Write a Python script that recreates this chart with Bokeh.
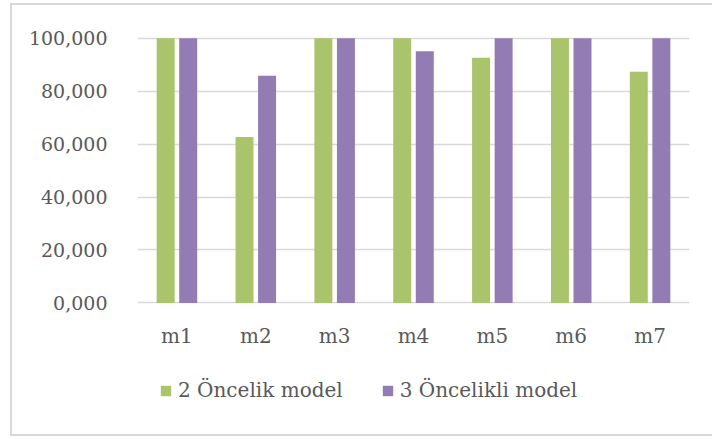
from bokeh.plotting import figure
from bokeh.layouts import column
from bokeh.models import FactorRange, Range1d, Legend, LegendItem, FixedTicker, ColumnDataSource
from bokeh.transform import dodge
from bokeh.embed import file_html
from bokeh.resources import INLINE

categories = ["m1", "m2", "m3", "m4", "m5", "m6", "m7"]
series_names = ["2 Öncelik model", "3 Öncelikli model"]
model2 = [100.0, 62.7, 100.0, 100.0, 92.6, 100.0, 87.3]
model3 = [100.0, 85.8, 100.0, 95.1, 100.0, 100.0, 100.0]
y_ticks = [0, 20, 40, 60, 80, 100]
y_tick_labels = ["0,000", "20,000", "40,000", "60,000", "80,000", "100,000"]

GREEN = "#a9c46b"
PURPLE = "#937bb3"
TEXT = "#595959"
GRID = "#d9d9d9"
FONT = "DejaVu Serif"

source = ColumnDataSource(dict(cat=categories, a=model2, b=model3))

p = figure(
    x_range=FactorRange(*categories, range_padding=0),
    y_range=Range1d(-0.6, 101.4),
    width=702, height=370,
    output_backend="svg", toolbar_location=None,
    min_border_left=127, min_border_right=23, min_border_top=31, min_border_bottom=69,
)
p.outline_line_color = None
p.background_fill_color = "white"
p.border_fill_color = None

r1 = p.vbar(x=dodge("cat", -0.143, range=p.x_range), top="a", width=0.228, bottom=0,
            source=source, fill_color=GREEN, line_color=None)
r2 = p.vbar(x=dodge("cat", 0.143, range=p.x_range), top="b", width=0.228, bottom=0,
            source=source, fill_color=PURPLE, line_color=None)

# axes
p.xaxis.axis_line_color = None
p.xaxis.major_tick_line_color = None
p.xaxis.minor_tick_line_color = None
p.xaxis.major_label_text_font = FONT
p.xaxis.major_label_text_font_size = "20px"
p.xaxis.major_label_text_color = TEXT
p.xaxis.major_label_standoff = 13
p.xgrid.grid_line_color = None

p.yaxis.ticker = FixedTicker(ticks=y_ticks)
p.yaxis.major_label_overrides = {t: l for t, l in zip(y_ticks, y_tick_labels)}
p.yaxis.axis_line_color = None
p.yaxis.major_tick_line_color = None
p.yaxis.minor_tick_line_color = None
p.yaxis.major_label_text_font = FONT
p.yaxis.major_label_text_font_size = "19px"
p.yaxis.major_label_text_color = TEXT
p.yaxis.major_label_standoff = 24
p.ygrid.ticker = FixedTicker(ticks=y_ticks)
p.ygrid.grid_line_color = GRID
p.ygrid.grid_line_width = 1.5
p.ygrid.level = "underlay"

# legend strip below the chart (its renderers carry the same data, drawn with no area)
lp = figure(
    x_range=p.x_range, y_range=Range1d(0, 1),
    width=702, height=63, output_backend="svg", toolbar_location=None,
    x_axis_type=None, y_axis_type=None,
    min_border_left=0, min_border_right=0, min_border_top=0, min_border_bottom=0,
)
lp.outline_line_color = None
lp.background_fill_color = None
lp.border_fill_color = None
lp.xgrid.grid_line_color = None
lp.ygrid.grid_line_color = None
l1 = lp.vbar(x="cat", top="a", bottom="a", width=0,
             source=source, fill_color=GREEN, line_color=None)
l2 = lp.vbar(x="cat", top="b", bottom="b", width=0,
             source=source, fill_color=PURPLE, line_color=None)

legend = Legend(
    items=[LegendItem(label=series_names[0], renderers=[l1]),
           LegendItem(label=series_names[1], renderers=[l2])],
    location=(22, 34),
    orientation="horizontal",
    label_text_font=FONT,
    label_text_font_size="20px",
    label_text_color=TEXT,
    glyph_width=13, glyph_height=13,
    label_standoff=6, spacing=38,
    padding=0, margin=0,
    border_line_color=None, background_fill_alpha=0,
)
lp.add_layout(legend, "center")

layout = column(p, lp, spacing=0)
layout.margin = (3, 0, 0, 10)
layout.styles = {
    "background": "white",
    "box-shadow": "inset 2px 0 0 #d9d9d9, inset 0 2px 0 #d9d9d9, inset 0 -2px 0 #d9d9d9",
}

open("out.html", "w").write(file_html(layout, INLINE))
